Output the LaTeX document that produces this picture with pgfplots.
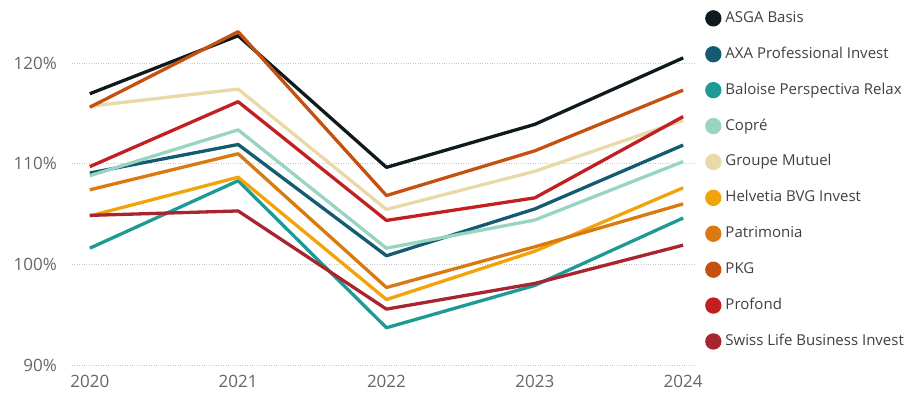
\documentclass[border=0pt]{standalone}
\usepackage{fontspec}
\setmainfont{Open Sans}
\usepackage{pgfplots}
\pgfplotsset{compat=1.18}
\definecolor{cASGA}{HTML}{0F1A1F}
\definecolor{cAXA}{HTML}{145A70}
\definecolor{cBAL}{HTML}{1E9A96}
\definecolor{cCOP}{HTML}{98D5C0}
\definecolor{cGM}{HTML}{E8D9A6}
\definecolor{cHEL}{HTML}{F2A30A}
\definecolor{cPAT}{HTML}{D97A10}
\definecolor{cPKG}{HTML}{C4510F}
\definecolor{cPRO}{HTML}{C22020}
\definecolor{cSL}{HTML}{A8242F}
\definecolor{tickc}{HTML}{666666}
\definecolor{legc}{HTML}{404040}
\definecolor{gridc}{HTML}{C8C8C8}
\begin{document}
\begin{tikzpicture}
\begin{axis}[
  scale only axis,
  width=623pt, height=365pt,
  xmin=2019.88, xmax=2024.08,
  ymin=90, ymax=126.25,
  axis line style={draw=none},
  xtick={2020,2021,2022,2023,2024},
  xticklabels={2020,2021,2022,2023,2024},
  ytick={90,100,110,120},
  yticklabels={90\%,100\%,110\%,120\%},
  ymajorgrids,
  major grid style={gridc, dotted, line width=0.8pt},
  tick style={draw=none},
  /pgf/number format/assume math mode=true,
  ticklabel style={font=\fontsize{17}{17}\selectfont, text=tickc, inner sep=0pt},
  yticklabel style={anchor=east, xshift=-15pt},
  xticklabel style={anchor=north, yshift=-10pt},
  every axis plot/.append style={line width=3.3pt, mark=none, line join=round},
  legend cell align=left,
  legend image code/.code={\fill[#1] (0pt,0pt) circle (6.5pt);},
  legend style={at={(1,1)}, anchor=north west, xshift=10pt, yshift=-10pt,
    draw=none, fill=none, inner sep=0pt, row sep=19.6pt,
    font=\fontsize{15}{15}\selectfont, text=legc,
    nodes={inner sep=0pt, text height=11pt, text depth=3pt},
    /tikz/every odd column/.append style={column sep=4pt}},
]
\addplot[color=cASGA] coordinates {(2020,116.94) (2021,122.7) (2022,109.63) (2023,113.9) (2024,120.5)};
\addlegendentry{ASGA Basis}
\addplot[color=cAXA] coordinates {(2020,109.07) (2021,111.9) (2022,100.85) (2023,105.5) (2024,111.84)};
\addlegendentry{AXA Professional Invest}
\addplot[color=cBAL] coordinates {(2020,101.6) (2021,108.3) (2022,93.7) (2023,97.9) (2024,104.6)};
\addlegendentry{Baloise Perspectiva Relax}
\addplot[color=cCOP] coordinates {(2020,108.8) (2021,113.35) (2022,101.6) (2023,104.4) (2024,110.2)};
\addlegendentry{Copré}
\addplot[color=cGM] coordinates {(2020,115.7) (2021,117.4) (2022,105.45) (2023,109.24) (2024,114.3)};
\addlegendentry{Groupe Mutuel}
\addplot[color=cHEL] coordinates {(2020,104.8) (2021,108.65) (2022,96.5) (2023,101.3) (2024,107.6)};
\addlegendentry{Helvetia BVG Invest}
\addplot[color=cPAT] coordinates {(2020,107.4) (2021,110.98) (2022,97.7) (2023,101.74) (2024,106.0)};
\addlegendentry{Patrimonia}
\addplot[color=cPKG] coordinates {(2020,115.6) (2021,123.1) (2022,106.83) (2023,111.27) (2024,117.3)};
\addlegendentry{PKG}
\addplot[color=cPRO] coordinates {(2020,109.7) (2021,116.15) (2022,104.36) (2023,106.6) (2024,114.67)};
\addlegendentry{Profond}
\addplot[color=cSL] coordinates {(2020,104.86) (2021,105.3) (2022,95.55) (2023,98.1) (2024,101.9)};
\addlegendentry{Swiss Life Business Invest}
\end{axis}
\pgfresetboundingbox
\path (-72pt,-27pt) rectangle (834pt,365pt);
\end{tikzpicture}
\end{document}
